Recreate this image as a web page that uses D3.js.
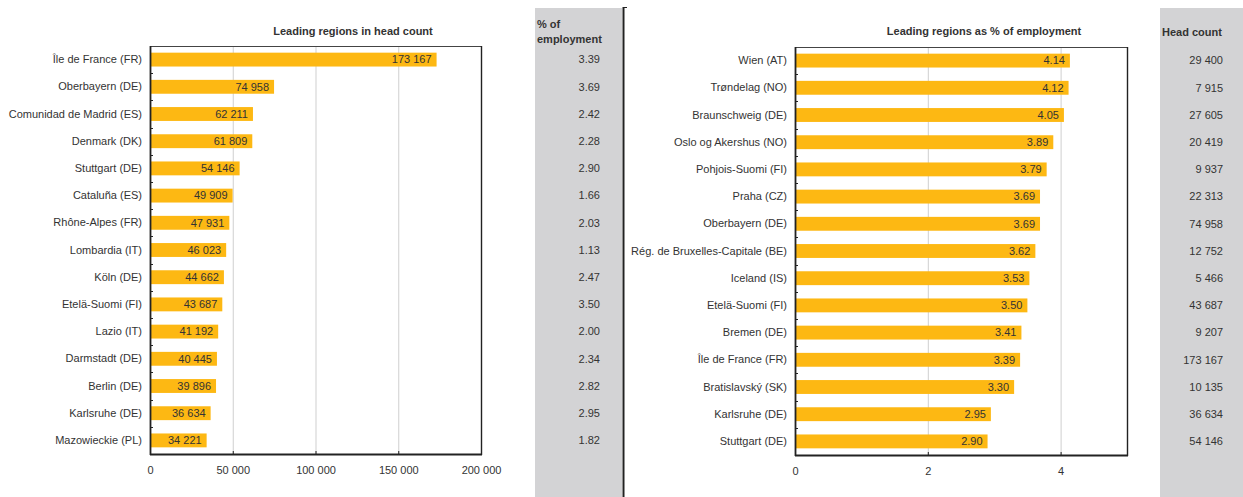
<!DOCTYPE html>
<html><head><meta charset="utf-8">
<script src="https://cdn.jsdelivr.net/npm/d3@7"></script>
<style>
body{margin:0;background:#fff;}
text{font-family:"Liberation Sans",Arial,sans-serif;fill:#333;}
</style></head>
<body><svg id="c" width="1243" height="497"></svg>
<script>
// Left panel: leading regions in head count
const leftRegions = ["Île de France (FR)","Oberbayern (DE)","Comunidad de Madrid (ES)","Denmark (DK)","Stuttgart (DE)","Cataluña (ES)","Rhône-Alpes (FR)","Lombardia (IT)","Köln (DE)","Etelä-Suomi (FI)","Lazio (IT)","Darmstadt (DE)","Berlin (DE)","Karlsruhe (DE)","Mazowieckie (PL)"];
const leftHeadCount = [173167,74958,62211,61809,54146,49909,47931,46023,44662,43687,41192,40445,39896,36634,34221];
const leftPctEmployment = [3.39,3.69,2.42,2.28,2.90,1.66,2.03,1.13,2.47,3.50,2.00,2.34,2.82,2.95,1.82];
const leftTicks = [0,50000,100000,150000,200000];

// Right panel: leading regions as % of employment
const rightRegions = ["Wien (AT)","Trøndelag (NO)","Braunschweig (DE)","Oslo og Akershus (NO)","Pohjois-Suomi (FI)","Praha (CZ)","Oberbayern (DE)","Rég. de Bruxelles-Capitale (BE)","Iceland (IS)","Etelä-Suomi (FI)","Bremen (DE)","Île de France (FR)","Bratislavský (SK)","Karlsruhe (DE)","Stuttgart (DE)"];
const rightPctEmployment = [4.14,4.12,4.05,3.89,3.79,3.69,3.69,3.62,3.53,3.50,3.41,3.39,3.30,2.95,2.90];
const rightHeadCount = [29400,7915,27605,20419,9937,22313,74958,12752,5466,43687,9207,173167,10135,36634,54146];
const rightTicks = [0,2,4];

const svg = d3.select("#c");
const BAR = "#FDB813";
const fmt2 = d3.format(".2f");
const spaceFmt = v => d3.format(",")(v).replace(/,/g," ");

// grey side columns
svg.append("rect").attr("x",535).attr("y",8).attr("width",87).attr("height",489).attr("fill","#d3d3d5");
svg.append("rect").attr("x",1160).attr("y",8).attr("width",83).attr("height",489).attr("fill","#d3d3d5");
// separator line
svg.append("line").attr("x1",623.5).attr("x2",623.5).attr("y1",7).attr("y2",497).attr("stroke","#222").attr("stroke-width",2);
svg.append("line").attr("x1",623).attr("x2",627).attr("y1",7.5).attr("y2",7.5).attr("stroke","#222").attr("stroke-width",1);

function panel(opts){
  const {x0,x1,y0,y1,cats,vals,domain,ticks,labelFmt,tickFmt,title,titleX,sideVals,sideFmt,sideX} = opts;
  const x = d3.scaleLinear().domain(domain).range([x0,x1]);
  const y = d3.scaleBand().domain(cats).range([y0,y1]).paddingInner(0.49).paddingOuter(0.245);
  const g = svg.append("g");
  // gridlines
  const gridVals = ticks.filter(t => t > domain[0] && t < domain[1]);
  g.selectAll(".grid").data(gridVals).enter().append("line")
    .attr("x1",d=>x(d)+0.5).attr("x2",d=>x(d)+0.5).attr("y1",y0).attr("y2",y1)
    .attr("stroke","#cfcfcf").attr("stroke-width",1);
  // bars
  g.selectAll(".bar").data(cats).enter().append("rect")
    .attr("x",x(0)).attr("y",d=>y(d)).attr("height",y.bandwidth())
    .attr("width",(d,i)=>x(vals[i])-x(0)).attr("fill",BAR);
  // value labels
  g.selectAll(".vl").data(cats).enter().append("text")
    .attr("x",(d,i)=>x(vals[i])-5).attr("y",d=>y(d)+y.bandwidth()/2)
    .attr("dy","0.35em").attr("text-anchor","end").attr("font-size",11)
    .text((d,i)=>labelFmt(vals[i]));
  // frame
  g.append("rect").attr("x",x0+0.5).attr("y",y0+0.5).attr("width",x1-x0).attr("height",y1-y0)
    .attr("fill","none").attr("stroke","#444").attr("stroke-width",1);
  g.append("line").attr("x1",x1+0.5).attr("x2",x1+0.5).attr("y1",y0).attr("y2",y1+1).attr("stroke","#222").attr("stroke-width",1.4);
  g.append("line").attr("x1",x0+0.5).attr("x2",x0+0.5).attr("y1",y0).attr("y2",y1+1).attr("stroke","#222").attr("stroke-width",1.8);
  g.append("line").attr("x1",x0).attr("x2",x1+1).attr("y1",y1+0.5).attr("y2",y1+0.5).attr("stroke","#222").attr("stroke-width",1.8);
  // left axis category labels
  const ya = d3.axisLeft(y).tickSize(0).tickPadding(8);
  const ag = g.append("g").attr("transform",`translate(${x0},0)`).call(ya);
  ag.select(".domain").remove();
  ag.selectAll("text").attr("font-size",11).attr("fill","#333").attr("font-family","Liberation Sans, Arial, sans-serif");
  // small inward ticks between categories
  const step = y.step();
  const gap = step - y.bandwidth();
  g.selectAll(".ct").data(cats.slice(1)).enter().append("line")
    .attr("x1",x0).attr("x2",x0+3)
    .attr("y1",d=>Math.round(y(d)-gap/2)+0.5).attr("y2",d=>Math.round(y(d)-gap/2)+0.5)
    .attr("stroke","#222");
  // bottom axis
  const xa = d3.axisBottom(x).tickValues(ticks).tickSize(0).tickPadding(12).tickFormat(tickFmt);
  const bg = g.append("g").attr("transform",`translate(0,${y1})`).call(xa);
  bg.select(".domain").remove();
  bg.selectAll("text").attr("font-size",11).attr("fill","#333").attr("font-family","Liberation Sans, Arial, sans-serif");
  g.selectAll(".bt").data(ticks).enter().append("line")
    .attr("x1",d=>x(d)+0.5).attr("x2",d=>x(d)+0.5).attr("y1",y1-3).attr("y2",y1)
    .attr("stroke","#222");
  // title
  g.append("text").attr("x",titleX).attr("y",35).attr("text-anchor","middle")
    .attr("font-size",11).attr("font-weight","bold").text(title);
  // side values
  g.selectAll(".sv").data(cats).enter().append("text")
    .attr("x",sideX).attr("y",d=>y(d)+y.bandwidth()/2).attr("dy","0.35em")
    .attr("text-anchor","end").attr("font-size",11)
    .text((d,i)=>sideFmt(sideVals[i]));
}

panel({x0:150,x1:481,y0:46,y1:454,cats:leftRegions,vals:leftHeadCount,domain:[0,200000],ticks:leftTicks,
  labelFmt:spaceFmt,tickFmt:spaceFmt,title:"Leading regions in head count",titleX:353,
  sideVals:leftPctEmployment,sideFmt:fmt2,sideX:600});
panel({x0:795,x1:1127,y0:47,y1:455,cats:rightRegions,vals:rightPctEmployment,domain:[0,5],ticks:rightTicks,
  labelFmt:fmt2,tickFmt:d3.format("d"),title:"Leading regions as % of employment",titleX:984,
  sideVals:rightHeadCount,sideFmt:spaceFmt,sideX:1223});

// side headers
svg.append("text").attr("x",537).attr("y",28).attr("font-size",11).attr("font-weight","bold").text("% of");
svg.append("text").attr("x",537).attr("y",43).attr("font-size",11).attr("font-weight","bold").text("employment");
svg.append("text").attr("x",1162).attr("y",36).attr("font-size",11).attr("font-weight","bold").text("Head count");
</script></body></html>
